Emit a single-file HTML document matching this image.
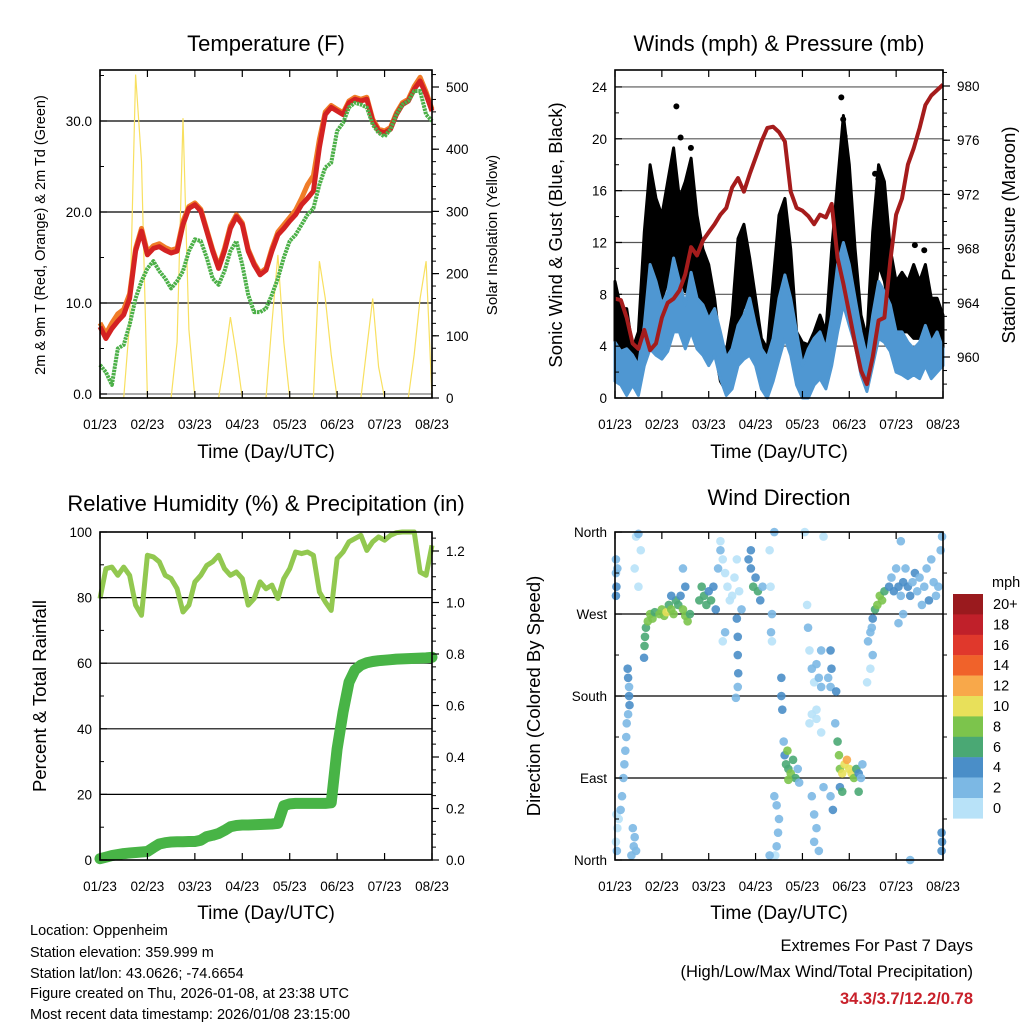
<!DOCTYPE html>
<html><head><meta charset="utf-8"><style>
html,body{margin:0;padding:0;background:#fff;}
svg{display:block;font-family:"Liberation Sans",Arial,sans-serif;}
</style></head><body>
<svg id="chart" width="1024" height="1024" viewBox="0 0 1024 1024" xmlns="http://www.w3.org/2000/svg">
<rect x="0" y="0" width="1024" height="1024" fill="#fff"/>
<g font-size="22" text-anchor="middle" fill="#000">
<text x="266" y="51">Temperature (F)</text>
<text x="779" y="51">Winds (mph) &amp; Pressure (mb)</text>
<text x="266" y="511">Relative Humidity (%) &amp; Precipitation (in)</text>
<text x="779" y="505">Wind Direction</text>
</g>
<g font-size="19" text-anchor="middle">
<text x="266" y="458">Time (Day/UTC)</text>
<text x="779" y="458">Time (Day/UTC)</text>
<text x="266" y="919">Time (Day/UTC)</text>
<text x="779" y="919">Time (Day/UTC)</text>
</g>
<text transform="translate(45,235) rotate(-90)" font-size="14.5" text-anchor="middle">2m &amp; 9m T (Red, Orange) &amp; 2m Td (Green)</text>
<text transform="translate(497,235) rotate(-90)" font-size="15" text-anchor="middle">Solar Insolation (Yellow)</text>
<text transform="translate(562,235) rotate(-90)" font-size="18.5" text-anchor="middle">Sonic Wind &amp; Gust (Blue, Black)</text>
<text transform="translate(1015,235) rotate(-90)" font-size="18.5" text-anchor="middle">Station Pressure (Maroon)</text>
<text transform="translate(46,696) rotate(-90)" font-size="18.5" text-anchor="middle">Percent &amp; Total Rainfall</text>
<text transform="translate(540,696) rotate(-90)" font-size="18.5" text-anchor="middle">Direction (Colored By Speed)</text>
<g font-size="14.5">
<text x="30" y="935">Location: Oppenheim</text>
<text x="30" y="957">Station elevation: 359.999 m</text>
<text x="30" y="978">Station lat/lon: 43.0626; -74.6654</text>
<text x="30" y="998">Figure created on Thu, 2026-01-08, at 23:38 UTC</text>
<text x="30" y="1019">Most recent data timestamp: 2026/01/08 23:15:00</text>
</g>
<g font-size="16.5" text-anchor="end">
<text x="973" y="951">Extremes For Past 7 Days</text>
<text x="973" y="977">(High/Low/Max Wind/Total Precipitation)</text>
<text x="973" y="1004" fill="#c8202a" font-weight="bold">34.3/3.7/12.2/0.78</text>
</g>
<text x="992" y="587" font-size="14.5">mph</text>
</svg>
<script>
// ---------- data ----------
const timeStepDays = 0.125;
const dayLabels = ["01/23","02/23","03/23","04/23","05/23","06/23","07/23","08/23"];
const tempRed = [7.4,6.1,7.2,8,8.7,10.5,15.7,17.9, 15.3,16,16.2,15.8,15.5,15.7,18.6,20.4, 20.8,20.1,17.9,15.7,13.8,15.7,18.2,19.5, 18.6,15.7,14.2,13.1,13.6,15.7,17.5,18.2, 19,19.7,20.8,21.5,22.3,27.1,30.7,31.5, 31.1,30.7,32,32.4,32.2,32.4,30,28.9, 28.7,29.1,30.7,31.8,32.2,33.5,34.4,32.9, 31.1];
const tempOrange = [7.8,6.6,7.8,8.8,9.3,11,16,18.2, 15.6,16.3,16.5,16.1,15.8,16,19,20.6, 21,20.3,18.1,15.9,14,16,18.5,19.7, 18.8,15.9,14.4,13.3,13.8,16,17.8,18.6, 19.4,20.2,21.5,23,24,28,31,31.7, 31.3,30.9,32.2,32.6,32.4,32.6,30.2,29.1, 28.9,29.3,30.9,32,32.4,33.8,34.8,33.2, 31.3];
const dewGreen = [3.2,2.4,1.0,5.0,5.4,7.6,10.5,12.4, 13.8,14.6,13.5,12.7,11.6,12.4,13.5,15.7, 17,16.8,15,12.7,12,13.5,15.7,16.8, 14.2,10.9,9,9,9.4,10.9,12.7,15, 16.8,17.5,18.6,19.7,20.4,23,24.9,25.4, 28.9,29.8,31.5,32,31.8,31.5,29.6,28.7, 28.3,29.1,30.7,31.8,32.2,33.3,33.3,30.7, 30];
const solar = [0,0,0,0,0,120,520,380, 0,0,0,0,0,90,450,110, 0,0,0,0,0,60,130,70, 0,0,0,0,0,120,230,90, 0,0,0,0,0,220,160,70, 0,0,0,0,0,80,160,50, 0,0,0,0,0,70,160,220, 0];
const pressure = [964.3,964.2,962.9,961,960.6,962,960.5,961, 962.9,964,964.3,964.9,966.1,968.1,967.5,968.6, 969.2,969.8,970.5,971,972.5,973.2,972.2,973.5, 974.7,975.9,976.9,977,976.6,975.9,972.2,971, 970.8,970.4,969.8,970.5,970.3,971.3,967.3,965.4, 963.2,961,959,958,960,962.7,962.9,967.1, 970.5,971.7,974.2,975.4,976.9,978.6,979.3,979.7, 980.1];
const windHi = [4.3,3.6,3.8,3.3,2.5,5.6,10.3,9, 7.2,8.2,10.8,9,7.2,9.7,7.7,7.2, 6.1,6.9,5.1,3.1,3.8,5.6,6.4,7.7, 5.6,3.8,3.1,4.6,7.7,9.5,7.7,5.1, 2.5,3.8,4.6,5.1,3.8,6.4,10.3,12, 10.3,7.7,5.1,3.1,6.4,9,8.2,7.2, 5.1,5.1,4.3,3.8,4.3,5.6,4.3,5.1, 3.8];
const windLo = [1.3,1,0.2,1,0.2,2.5,3.8,3.3, 3,3.6,5.1,5.1,3.8,5.1,3.8,3.3, 2.5,3.3,1.5,0.2,0.7,2.5,3,3.3, 2.5,0.7,0,1.3,3,4.6,3.3,1, 0,0,1,1.5,0.7,2.5,5.1,7.2, 5.6,4.1,1.8,0.5,2.5,4.6,4.3,3.6, 2,1.8,1.5,1.8,1.5,2.5,1.5,2, 2.5];
const gustHi = [9,6.9,6.9,3.8,5.1,12.8,18,15.4, 14.1,16.7,19.3,15.4,16.7,18.5,14.1,11.5, 10.3,7.7,3.8,3.6,6.4,12.3,13.4,10.8, 7.7,4.6,3.8,9,14.1,15.4,11.5,5.1, 4.3,4.1,5.1,6.4,5.1,11.5,16.7,21.8, 18,11.5,6.4,4.6,12.8,18,16.7,11.5, 9,9.7,9,10.3,9,10.3,7.7,7.7, 6.4];
const gustLo = [3.8,1.8,2,1.3,2,5.1,9,9, 7.7,9,11.5,9,8.2,10.3,7.7,6.4, 5.1,3.8,1.3,0.5,2.5,5.6,7.2,6.4, 3.8,1.3,1,3.8,7.7,9,5.6,2, 0.5,1,2,2.5,1.8,6.4,9,11.5, 9,6.4,2.5,1.3,6.4,10.3,9,6.4, 4.6,5.1,5.1,4.6,4.6,5.6,4.3,4.3, 3.8];
const gustPeakTimes = [1.31,1.4,1.62,4.83,4.87,4.9,5.55,5.62,6.4,6.6];
const gustPeakValues = [22.5,20.1,19.3,23.2,21.5,20.2,17.3,16.9,11.8,11.4];
const humidity = [79.7,88.8,89.3,86.8,89.3,86.8,77.7,74.6, 92.9,92.4,90.9,86.8,85.8,82.7,75.6,77.7, 84.8,86.8,89.8,90.9,92.9,88.8,86.8,87.8, 85.8,77.7,79.7,84.8,82.7,83.8,79.7,85.8, 88.8,93.9,93.4,93.9,92.9,81.7,78.7,76.1, 91.9,93.9,97,98,99,94.4,97,98.5, 97.5,99,99.8,100,100,100,87.8,86.8, 95.9];
const precip = [0.005,0.011,0.017,0.021,0.025,0.027,0.029,0.031, 0.033,0.048,0.062,0.067,0.07,0.071,0.071,0.072, 0.072,0.077,0.091,0.096,0.103,0.115,0.129,0.134, 0.136,0.136,0.137,0.138,0.139,0.14,0.142,0.211, 0.218,0.22,0.22,0.22,0.22,0.22,0.22,0.222, 0.431,0.575,0.69,0.738,0.757,0.766,0.771,0.774, 0.776,0.778,0.78,0.781,0.782,0.783,0.784,0.785, 0.787];
// wind direction observations: [day, degrees, speed mph]
const dirObs = [[0.02,330,3],[0.02,315,3],[0.03,300,4],[0.02,290,4],[0.05,320,2],[0.03,50,1],[0.05,35,1],[0.02,20,1],[0.04,10,2],
[0.27,210,4],[0.28,200,4],[0.3,190,3],[0.3,180,4],[0.31,170,4],[0.28,160,3],[0.25,150,3],[0.24,135,2],[0.22,120,3],[0.2,105,2],[0.18,90,2],[0.15,70,2],[0.12,55,2],[0.08,45,1],[0.38,35,3],[0.42,25,3],[0.4,15,2],[0.45,10,2],[0.35,5,2],
[0.45,355,1],[0.5,358,2],[0.55,340,1],[0.42,320,1],[0.5,300,1],
[0.62,222,4],[0.63,235,6],[0.64,245,6],[0.66,255,7],[0.7,262,8],[0.75,270,9],[0.8,265,8],[0.85,272,7],
[0.95,270,8],[1.0,275,8],[1.05,268,9],[1.1,272,10],[1.15,280,7],[1.2,275,8],[1.25,270,9],[1.3,285,7],[1.35,280,6],[1.4,290,5],[1.45,275,8],[1.5,268,9],[1.55,262,8],[1.6,270,7],[1.2,290,4],[1.5,300,4],[1.45,320,3],
[1.8,285,6],[1.85,300,7],[1.9,290,6],[1.95,280,6],[2.0,295,5],[2.05,285,6],[2.1,300,4],[2.15,275,4],[2.2,320,3],[2.25,340,3],
[2.25,350,1],[2.3,330,1],[2.35,315,0],[2.4,300,1],[2.45,285,1],[2.5,290,0],[2.55,310,1],[2.6,330,1],[2.65,295,1],[2.7,275,2],[2.35,250,2],[2.3,240,1],
[2.6,265,4],[2.62,245,4],[2.62,225,4],[2.63,205,4],[2.62,190,2],[2.58,178,2],
[2.85,330,4],[2.9,320,4],[2.95,300,6],[3.0,310,5],[3.05,295,6],[3.1,285,4],[2.9,340,4],[3.15,300,3],[3.3,340,1],[3.32,300,1],[3.35,270,2],[3.33,250,2],[3.35,240,1],[3.4,360,2],
[4.1,280,1],[4.12,255,2],[4.15,230,1],[4.2,210,2],[4.25,195,1],[4.3,215,2],[4.35,200,2],[4.4,190,2],[4.4,230,2],[4.05,360,1],[4.45,355,1],
[3.55,200,4],[3.55,180,4],[3.57,165,4],[3.6,130,3],[3.62,115,4],[3.65,105,6],[3.7,100,7],[3.75,95,8],[3.8,110,7],[3.85,90,6],[3.9,100,3],[3.93,85,3],[3.7,88,8],[3.68,120,8],
[3.4,70,2],[3.45,60,3],[3.5,45,2],[3.48,30,2],[3.45,15,2],[3.42,5,1],[3.3,5,2],
[4.15,150,0],[4.2,160,1],[4.3,155,1],[4.3,165,0],[4.4,140,1],[4.2,70,3],[4.25,50,2],[4.3,35,2],[4.25,20,3],[4.35,10,2],[4.45,80,2],
[4.6,230,4],[4.62,210,4],[4.6,190,3],[4.55,200,2],[4.72,185,4],[4.7,150,2],
[4.75,130,6],[4.78,115,8],[4.8,100,8],[4.85,95,10],[4.9,105,10],[4.95,110,12],[5.0,100,10],[5.05,95,10],[5.1,90,8],[5.15,100,6],[5.2,95,4],[5.25,90,3],[5.28,105,3],[4.8,80,4],[4.85,75,6],[5.2,75,6],[4.6,70,3],[4.65,55,4],
[5.4,240,2],[5.45,250,2],[5.48,255,3],[5.5,265,4],[5.55,275,6],[5.6,280,8],[5.65,290,8],[5.7,285,8],[5.75,295,6],[5.5,225,3],[5.45,210,1],[5.38,195,1],
[5.85,300,4],[5.9,310,3],[5.95,295,4],[6.0,320,3],[6.05,300,4],[6.1,290,3],[6.15,305,4],[6.2,320,3],[6.25,300,4],[6.3,290,4],[6.35,305,3],[6.4,315,4],[6.45,295,3],[6.5,310,3],[6.55,280,3],[6.6,300,3],[6.65,320,2],[6.7,285,4],[6.75,330,3],[6.8,305,2],[6.85,290,3],[6.9,300,3],[6.95,340,2],[6.98,355,2],[6.1,350,3],[6.05,260,2],[6.15,270,3],[6.3,0,2],
[6.97,30,4],[6.98,20,4],[6.97,10,4]];
const speedLevels = ["20+","18","16","14","12","10","8","6","4","2","0"];
const speedColors = ["#b8e2f8","#7cb8e4","#4a8ec8","#4aa874","#7cc44c","#e8e05a","#f8a84a","#f0622a","#e0382c","#c0202a","#9a1a1e"];

// ---------- helpers ----------
const NS = 'http://www.w3.org/2000/svg';
const svg = document.getElementById('chart');
function mk(tag, attrs, parent) {
  const e = document.createElementNS(NS, tag);
  for (const k in attrs) e.setAttribute(k, attrs[k]);
  (parent || svg).appendChild(e);
  return e;
}
const P1 = {x0:100, x1:432, y0:70, y1:398};
const P2 = {x0:615, x1:943, y0:70, y1:398};
const P3 = {x0:100, x1:432, y0:532, y1:860};
const P4 = {x0:615, x1:943, y0:532, y1:860};
function xs(P, t) { return P.x0 + t / 7 * (P.x1 - P.x0); }
const yTemp = v => 394 - v * 9.1;
const ySolar = v => Math.max(70, 398 - v * 0.622);
const yWind = v => 398 - v * 12.96;
const yPres = v => 86 + (980 - v) * 13.55;
const yRH = v => 860 - v * 3.28;
const yPrecip = v => 860 - v * 257.5;
const yDir = v => 860 - v * 0.911;
function tOf(i) { return i * timeStepDays; }
function pts(P, arr, yf) { return arr.map((v, i) => xs(P, tOf(i)).toFixed(1) + ',' + yf(v).toFixed(1)).join(' '); }
function band(P, hi, lo, yf) {
  const a = hi.map((v, i) => xs(P, tOf(i)).toFixed(1) + ',' + yf(v).toFixed(1));
  const b = lo.map((v, i) => xs(P, tOf(i)).toFixed(1) + ',' + yf(v).toFixed(1)).reverse();
  return a.concat(b).join(' ');
}

function gridLines(P, vals, yf, name, color) {
  vals.forEach(v => {
    const l = mk('line', {x1:P.x0, x2:P.x1, y1:yf(v), y2:yf(v), stroke:color || '#000', 'stroke-width':1.2});
    
    
  });
}
function leftTicks(P, vals, labels, yf, name, minor) {
  vals.forEach((v, i) => {
    const tk = mk('line', {x1:P.x0, x2:P.x0 + 7, y1:yf(v), y2:yf(v), stroke:'#000', 'stroke-width':1.2});
    
    
    const tx = mk('text', {x:P.x0 - 8, y:yf(v) + 5, 'font-size':13.5, 'text-anchor':'end'});
    tx.textContent = labels[i];
    
    
  });
  (minor || []).forEach(v => {
    const m = mk('line', {x1:P.x0, x2:P.x0 + 4, y1:yf(v), y2:yf(v), stroke:'#000', 'stroke-width':1});
    
    
  });
}
function rightTicks(P, vals, labels, yf, name, minor) {
  vals.forEach((v, i) => {
    const tk = mk('line', {x1:P.x1, x2:P.x1 + 7, y1:yf(v), y2:yf(v), stroke:'#000', 'stroke-width':1.2});
    
    
    const tx = mk('text', {x:P.x1 + 14, y:yf(v) + 5, 'font-size':13.5});
    tx.textContent = labels[i];
    
    
  });
  (minor || []).forEach(v => {
    const m = mk('line', {x1:P.x1, x2:P.x1 + 4, y1:yf(v), y2:yf(v), stroke:'#000', 'stroke-width':1});
    
    
  });
}
function xAxis(P, name) {
  dayLabels.forEach((lab, d) => {
    const x = xs(P, d);
    const t1 = mk('line', {x1:x, x2:x, y1:P.y1, y2:P.y1 - 7, stroke:'#000', 'stroke-width':1.2});
    
    
    const t2 = mk('line', {x1:x, x2:x, y1:P.y0, y2:P.y0 + 7, stroke:'#000', 'stroke-width':1.2});
    
    
    const tx = mk('text', {x:x, y:P.y1 + 31, 'font-size':13.5, 'text-anchor':'middle'});
    tx.textContent = lab;
    
    
  });
}
function frame(P, name) {
  const r = mk('rect', {x:P.x0, y:P.y0, width:P.x1 - P.x0, height:P.y1 - P.y0, fill:'none', stroke:'#000', 'stroke-width':1.6});
  
  
}
function range(a, b, s) { const r = []; for (let v = a; v <= b + 1e-9; v += s) r.push(+v.toFixed(3)); return r; }

// ---------- Panel 1: Temperature ----------
gridLines(P1, [10, 20, 30], yTemp, 'temp-gridline');
gridLines(P1, [0], yTemp, 'temp-gridline-zero', '#777');
const sol = mk('polyline', {points:pts(P1, solar, ySolar), fill:'none', stroke:'#f8e060', 'stroke-width':1.2});


const orng = mk('polyline', {points:pts(P1, tempOrange, yTemp), fill:'none', stroke:'#f07c28', 'stroke-width':5, 'stroke-linejoin':'round'});


const red = mk('polyline', {points:pts(P1, tempRed, yTemp), fill:'none', stroke:'#d42222', 'stroke-width':5, 'stroke-linejoin':'round'});


const dew = mk('polyline', {points:pts(P1, dewGreen, yTemp), fill:'none', stroke:'#4cb048', 'stroke-width':4, 'stroke-dasharray':'2.5 0.8', 'stroke-linejoin':'round'});


leftTicks(P1, [0, 10, 20, 30], ['0.0', '10.0', '20.0', '30.0'], yTemp, 'temp-y', [5, 15, 25, 35]);
rightTicks(P1, [0, 100, 200, 300, 400, 500], ['0', '100', '200', '300', '400', '500'], ySolar, 'solar-y', range(20, 520, 20));
xAxis(P1, 'temp');
frame(P1, 'temp');

// ---------- Panel 2: Winds ----------
gridLines(P2, [4, 8, 12, 16, 20, 24], yWind, 'wind-gridline', '#555');
const gb = mk('polygon', {points:band(P2, gustHi, gustLo, yWind), fill:'#000', stroke:'#000', 'stroke-width':3, 'stroke-linejoin':'round'});


gustPeakTimes.forEach((t, i) => {
  const c = mk('circle', {cx:xs(P2, t), cy:yWind(gustPeakValues[i]), r:3, fill:'#000'});
  
  
});
const wb = mk('polygon', {points:band(P2, windHi, windLo, yWind), fill:'#4f97d2', stroke:'#4f97d2', 'stroke-width':3, 'stroke-linejoin':'round'});


const pr = mk('polyline', {points:pts(P2, pressure, yPres), fill:'none', stroke:'#a51c1c', 'stroke-width':4, 'stroke-linejoin':'round'});


leftTicks(P2, [0, 4, 8, 12, 16, 20, 24], ['0', '4', '8', '12', '16', '20', '24'], yWind, 'wind-y', [2, 6, 10, 14, 18, 22]);
rightTicks(P2, [960, 964, 968, 972, 976, 980], ['960', '964', '968', '972', '976', '980'], yPres, 'pressure-y', range(958, 981, 1));
xAxis(P2, 'winds');
frame(P2, 'winds');

// ---------- Panel 3: Humidity & Precip ----------
gridLines(P3, [20, 40, 60, 80], yRH, 'humidity-gridline');
const pc = mk('polyline', {points:pts(P3, precip, yPrecip), fill:'none', stroke:'#48b446', 'stroke-width':11, 'stroke-linejoin':'round', 'stroke-linecap':'round'});


const rh = mk('polyline', {points:pts(P3, humidity, yRH), fill:'none', stroke:'#92c850', 'stroke-width':5, 'stroke-linejoin':'round'});


leftTicks(P3, [0, 20, 40, 60, 80, 100], ['0', '20', '40', '60', '80', '100'], yRH, 'humidity-y', [10, 30, 50, 70, 90]);
rightTicks(P3, [0, 0.2, 0.4, 0.6, 0.8, 1.0, 1.2], ['0.0', '0.2', '0.4', '0.6', '0.8', '1.0', '1.2'], yPrecip, 'precip-y', range(0.05, 1.25, 0.05));
xAxis(P3, 'humidity');
frame(P3, 'humidity');

// ---------- Panel 4: Wind direction ----------
gridLines(P4, [90, 180, 270], yDir, 'direction-gridline');
function speedColor(s) { return speedColors[Math.min(10, Math.floor(s / 2))]; }
dirObs.forEach(o => {
  const c = mk('circle', {cx:xs(P4, o[0]), cy:yDir(o[1]), r:4.3, fill:speedColor(o[2]), 'fill-opacity':0.9});
  
  
});
leftTicks(P4, [0, 90, 180, 270, 360], ['North', 'East', 'South', 'West', 'North'], yDir, 'direction-y', [45, 135, 225, 315]);
rightTicks(P4, [], [], yDir, 'direction-right', [45, 90, 135, 180, 225, 270, 315]);
xAxis(P4, 'direction');
frame(P4, 'direction');

// colorbar
speedLevels.forEach((lab, i) => {
  const y = 594 + i * 20.4;
  const r = mk('rect', {x:953, y:y, width:30, height:20.6, fill:speedColors[10 - i]});
  
  
  const t = mk('text', {x:993, y:y + 15, 'font-size':14.5});
  t.textContent = lab;
  
  
});
</script>
</body></html>
